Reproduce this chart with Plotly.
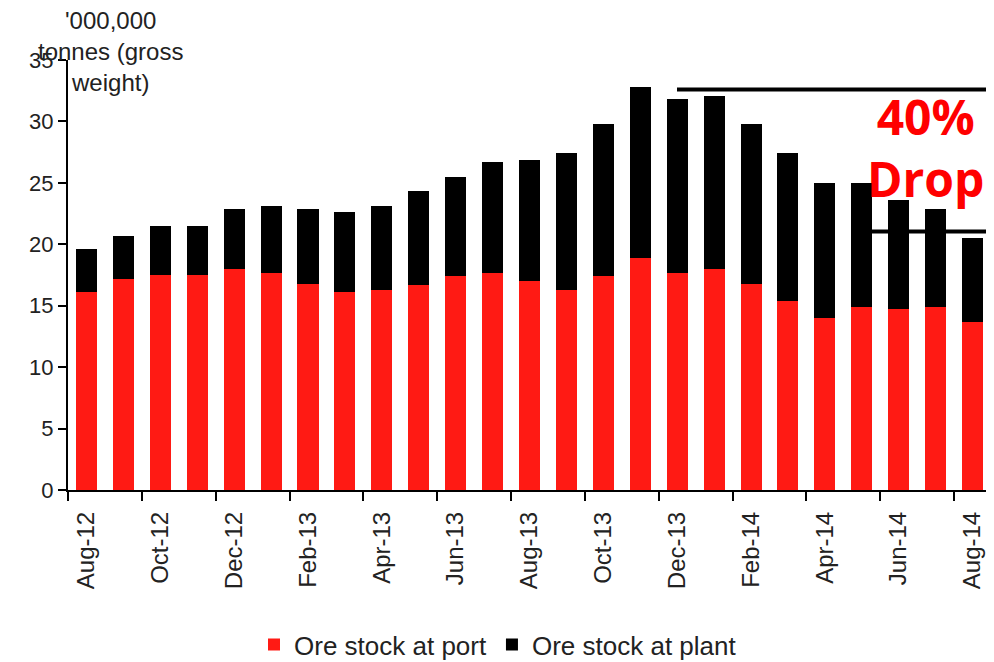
import plotly.graph_objects as go

months = [
    "Aug-12", "Sep-12", "Oct-12", "Nov-12", "Dec-12", "Jan-13", "Feb-13",
    "Mar-13", "Apr-13", "May-13", "Jun-13", "Jul-13", "Aug-13", "Sep-13",
    "Oct-13", "Nov-13", "Dec-13", "Jan-14", "Feb-14", "Mar-14", "Apr-14",
    "May-14", "Jun-14", "Jul-14", "Aug-14",
]
port_stock = [
    16.1, 17.2, 17.5, 17.5, 18.0, 17.7, 16.8, 16.1, 16.3, 16.7, 17.4, 17.7,
    17.0, 16.3, 17.4, 18.9, 17.7, 18.0, 16.8, 15.4, 14.0, 14.9, 14.7, 14.9, 13.7,
]
plant_stock = [
    3.5, 3.5, 4.0, 4.0, 4.9, 5.4, 6.1, 6.5, 6.8, 7.6, 8.1, 9.0,
    9.9, 11.1, 12.4, 13.9, 14.1, 14.1, 13.0, 12.0, 11.0, 10.1, 8.9, 8.0, 6.8,
]
peak_level = 32.6
latest_level = 21.05

idx = list(range(len(months)))
font = "Liberation Sans, Arial, sans-serif"

# page body has an 8px margin, so the figure is sized to fit the window
W, H = 986, 654
L, R, T, B = 60, 3, 52, 172
plot_w = W - L - R
plot_h = H - T - B

fig = go.Figure()
fig.add_trace(go.Bar(x=idx, y=port_stock, name="Ore stock at port",
                     marker=dict(color="#ff1a14", line_width=0)))
fig.add_trace(go.Bar(x=idx, y=plant_stock, name="Ore stock at plant",
                     marker=dict(color="#000000", line_width=0)))
# invisible trace so the label axis exists
fig.add_trace(go.Scatter(x=[idx[0]], y=[0], xaxis="x2", mode="markers",
                         marker_opacity=0, showlegend=False, hoverinfo="skip"))

fig.update_layout(
    width=W, height=H,
    margin=dict(l=L, r=R, t=T, b=B, autoexpand=False),
    paper_bgcolor="white", plot_bgcolor="white",
    barmode="stack", bargap=0.43,
    font=dict(family=font, size=20, color="#222"),
    xaxis=dict(
        range=[-0.5, len(months) - 0.5],
        tickvals=[i - 0.5 for i in idx[::2]] + [len(months) - 0.5],
        ticktext=[""] * (len(idx[::2]) + 1),
        ticks="outside", ticklen=9, tickwidth=2, tickcolor="black",
        showline=True, linecolor="black", linewidth=2,
        showgrid=False, zeroline=False,
    ),
    xaxis2=dict(
        overlaying="x", anchor="y", side="bottom",
        range=[-0.5, len(months) - 0.5],
        tickvals=idx[::2], ticktext=months[::2], tickangle=-90,
        ticks="", ticklabelstandoff=16,
        tickfont=dict(size=24, color="#222"),
        showline=False, showgrid=False, zeroline=False,
    ),
    yaxis=dict(
        range=[0, 35], dtick=5,
        ticks="outside", ticklen=8, tickwidth=2, tickcolor="black",
        showline=True, linecolor="black", linewidth=2,
        showgrid=False, zeroline=False,
        tickfont=dict(size=22, color="#222"),
    ),
    legend=dict(orientation="h", x=(490 - L) / plot_w, xanchor="center",
                y=-0.305, yanchor="top",
                font=dict(size=26, color="#222"), itemwidth=30,
                traceorder="normal"),
    showlegend=True,
)

fig.add_annotation(
    text="'000,000<br>tonnes (gross<br>weight)", xref="paper", yref="paper",
    x=(102 - L) / plot_w, y=1 + (T - 43) / plot_h, xanchor="center",
    yanchor="middle", showarrow=False,
    font=dict(size=24, color="#222"),
)
fig.add_annotation(
    text="<b>40%<br>Drop</b>", xref="paper", yref="y",
    x=(917 - L) / plot_w, y=27.9, xanchor="center", yanchor="middle", showarrow=False,
    font=dict(family="Open Sans, sans-serif", size=48, color="#ff0000"),
)
fig.add_shape(type="line", xref="paper", yref="y", x0=(669 - L) / plot_w, x1=1.01,
              y0=peak_level, y1=peak_level, line=dict(color="black", width=4))
fig.add_shape(type="line", xref="paper", yref="y", x0=(861 - L) / plot_w, x1=1.01,
              y0=latest_level, y1=latest_level, line=dict(color="black", width=4))

fig.write_html("out.html")
